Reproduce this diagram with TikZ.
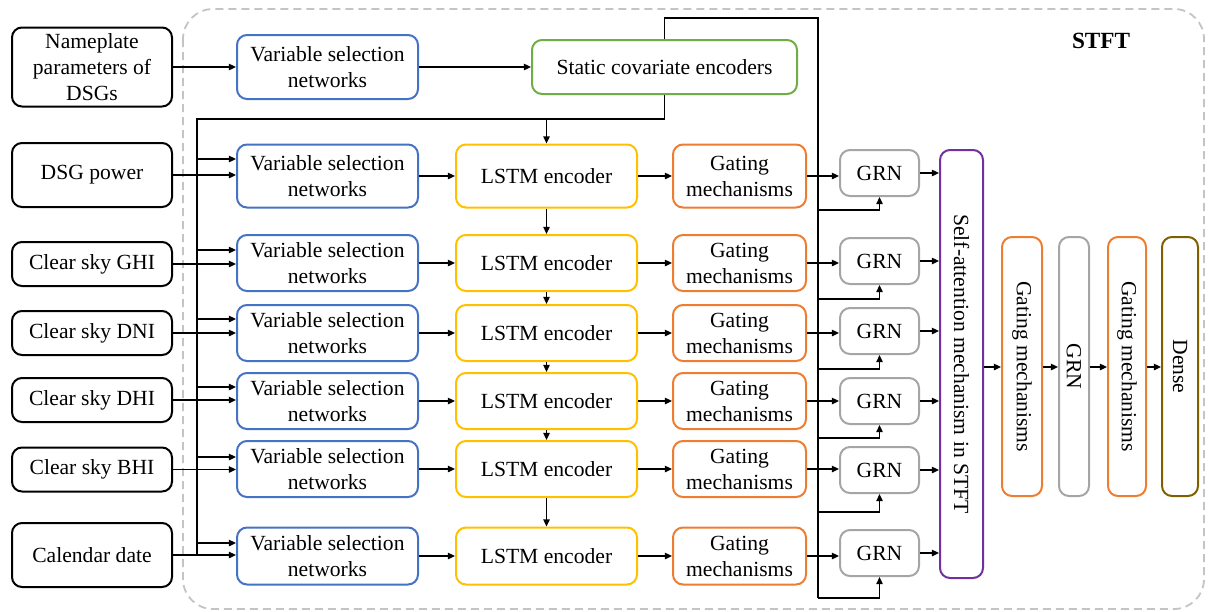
\documentclass[tikz,border=0pt]{standalone}
\usepackage{fontspec}
\setmainfont{Liberation Serif}
\usepackage{tikz}
\usetikzlibrary{arrows.meta,positioning,calc}
\definecolor{vsnblue}{HTML}{4472C4}
\definecolor{scegreen}{HTML}{70AD47}
\definecolor{lstmgold}{HTML}{FFC000}
\definecolor{gateorange}{HTML}{ED7D31}
\definecolor{grngray}{HTML}{A5A5A5}
\definecolor{attnpurple}{HTML}{7030A0}
\definecolor{denseolive}{HTML}{7F6000}
\definecolor{framegray}{HTML}{C4C4C4}
\tikzset{
  box/.style={draw, rectangle, rounded corners=5pt, line width=1pt, align=center, inner sep=1pt, font=\fontsize{10.8}{13}\selectfont},
  inp/.style={box, draw=black, minimum width=80pt},
  vsn/.style={box, draw=vsnblue, minimum width=90.5pt},
  sce/.style={box, draw=scegreen, minimum width=132.5pt, minimum height=27pt},
  lstm/.style={box, draw=lstmgold, minimum width=90.5pt},
  gate/.style={box, draw=gateorange, minimum width=66.5pt},
  grn/.style={box, draw=grngray, minimum width=39.5pt, minimum height=23pt},
  tall/.style={box, rotate=-90, minimum width=129.5pt},
  arr/.style={-{Triangle[length=3.6pt,width=3.2pt]}, line width=0.8pt},
  wire/.style={line width=0.8pt}
}
\begin{document}
\begin{tikzpicture}[x=0.5pt, y=-0.5pt]
\useasboundingbox (0,0) rectangle (1208,611);
% STFT frame
\draw[framegray, line width=0.9pt, dash pattern=on 4pt off 2.5pt, rounded corners=15pt] (183,9) rectangle (1204,609);
\node[font=\fontsize{11.6}{14}\selectfont\bfseries] (stft) at (1101,41) {STFT};

% inputs
\node[inp, minimum height=39.5pt] (in0) at (92,67) {Nameplate\\parameters of\\DSGs};
\node[inp, minimum height=32pt] (in1) at (92,175) {DSG power};
\node[inp, minimum height=22pt] (in2) at (92,264) {Clear sky GHI};
\node[inp, minimum height=22pt] (in3) at (92,333) {Clear sky DNI};
\node[inp, minimum height=22pt] (in4) at (92,400) {Clear sky DHI};
\node[inp, minimum height=22pt] (in5) at (92,469.5) {Clear sky BHI};
\node[inp, minimum height=32pt] (in6) at (92,555) {Calendar date};

% static path
\node[vsn, minimum height=32pt] (vsn0) at (327.5,67) {Variable selection\\networks};
\node[sce] (sce) at (664.5,67) {Static covariate encoders};
\draw[arr] (in0) -- (vsn0);
\draw[arr] (vsn0) -- (sce);

% time-varying rows
\foreach \r/\y/\h in {1/176/31.5pt,2/263/28pt,3/333/28pt,4/401/28pt,5/469/28pt,6/556/28.5pt}{
  \node[vsn, minimum height=\h] (vsn\r) at (327.5,\y) {Variable selection\\networks};
  \node[lstm, minimum height=\h] (lstm\r) at (546.5,\y) {LSTM encoder};
  \node[gate, minimum height=\h] (gate\r) at (739.5,\y) {Gating\\mechanisms};
  \draw[arr] (vsn\r) -- (lstm\r);
  \draw[arr] (lstm\r) -- (gate\r);
  \draw[arr] (in\r.east) -- (in\r.east -| vsn\r.west);
}
\foreach \r/\y/\f in {1/173/210,2/261/299,3/331/369,4/401/438,5/470/512,6/553/598}{
  \node[grn] (grn\r) at (879.5,\y) {GRN};
  \coordinate (feed\r) at (818,\f);
}
\foreach \r/\t in {1/159,2/250,3/319,4/387,5/457,6/543}
  \coordinate (tap\r) at (197,\t);

% context bus
\coordinate (busTop) at (197,119);
\coordinate (busEnd) at (197,556);
\coordinate (ctxTop) at (818,18);
\draw[wire] (sce.south) |- (busTop) -- (busEnd);
\draw[wire] (sce.north) |- (ctxTop) -- (feed6);
\draw[arr] (lstm1.north |- busTop) -- (lstm1.north);
\foreach \r in {1,...,6} \draw[arr] (tap\r) -- (tap\r -| vsn\r.west);
\foreach \s/\t in {1/2,2/3,3/4,4/5,5/6} \draw[arr] (lstm\s) -- (lstm\t);

% attention and output head
\node[tall, draw=attnpurple, minimum width=214pt, minimum height=21.5pt] (attn) at (961.5,364) {Self-attention mechanism in STFT};
\node[tall, draw=gateorange, minimum height=20pt] (gm1) at (1022,366.5) {Gating mechanisms};
\node[tall, draw=grngray, minimum height=15pt] (grn7) at (1074,366.5) {GRN};
\node[tall, draw=gateorange, minimum height=19pt] (gm2) at (1127,366.5) {Gating mechanisms};
\node[tall, draw=denseolive, minimum height=18pt] (dense) at (1180,366.5) {Dense};
\foreach \r in {1,...,6}{
  \draw[arr] (gate\r.east) -- (gate\r.east -| grn\r.west);
  \draw[arr] (feed\r) -| (grn\r.south);
  \draw[arr] (grn\r.east) -- (grn\r.east -| attn.south);
}
\coordinate (headY) at (0,367);
\foreach \s/\t in {attn/gm1,gm1/grn7,grn7/gm2,gm2/dense} \draw[arr] (\s.north |- headY) -- (\t.south |- headY);
\end{tikzpicture}
\end{document}
